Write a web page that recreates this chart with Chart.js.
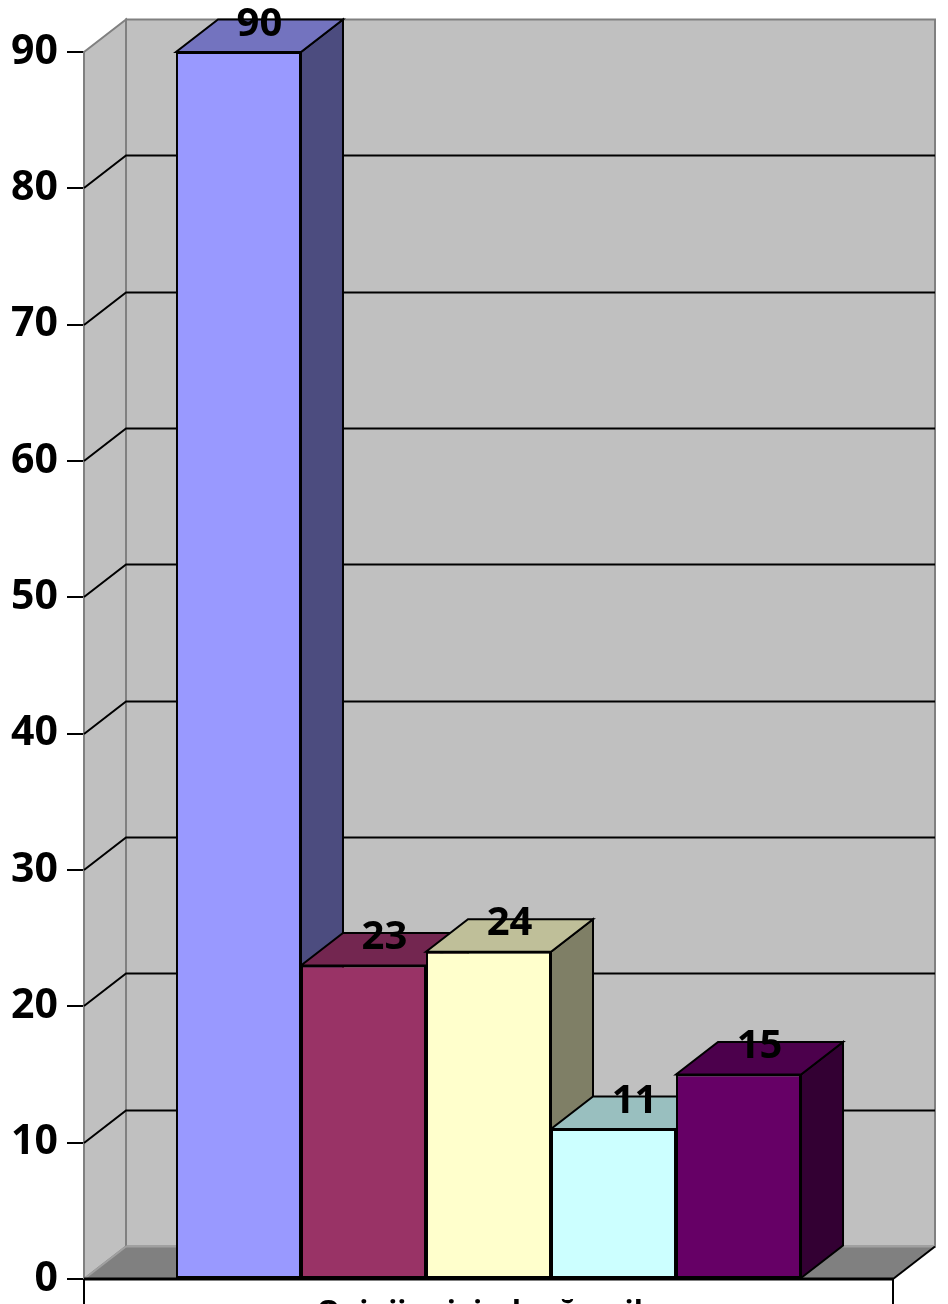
<!DOCTYPE html>
<html>
<head>
<meta charset="utf-8">
<script src="https://cdn.jsdelivr.net/npm/chart.js@4"></script>
<style>
  html, body { margin: 0; padding: 0; background: #fff; overflow: hidden; }
  canvas { display: block; }
</style>
</head>
<body>
<canvas id="grafic" width="948" height="1304"></canvas>
<script>
// date
const categorii = ['Opinii privind măsurile'];
const serii = ['Seria 1', 'Seria 2', 'Seria 3', 'Seria 4', 'Seria 5'];
const valori = [90, 23, 24, 11, 15];
const yMin = 0, yMax = 90, yPas = 10;

// culori (fata, sus, lateral)
const culoriFata = ['#9999FF', '#993366', '#FFFFCC', '#CCFFFF', '#660066'];
const culoriSus = ['#7373BF', '#732650', '#BFBF99', '#99BFBF', '#4C004C'];
const culoriLateral = ['#4C4C7F', '#4C1933', '#7F7F66', '#667F7F', '#330033'];

// adancime 3D
const DX = 42, DY = -32.5;
const FONT = '"Open Sans", "Liberation Sans", sans-serif';

function poly(ctx, pts, fill, stroke, lw) {
    ctx.beginPath();
    ctx.moveTo(pts[0][0], pts[0][1]);
    for (let i = 1; i < pts.length; i++) ctx.lineTo(pts[i][0], pts[i][1]);
    ctx.closePath();
    if (fill) { ctx.fillStyle = fill; ctx.fill(); }
    if (stroke) { ctx.strokeStyle = stroke; ctx.lineWidth = lw || 2; ctx.stroke(); }
}

function line(ctx, x1, y1, x2, y2, color, lw) {
    ctx.beginPath();
    ctx.moveTo(x1, y1);
    ctx.lineTo(x2, y2);
    ctx.strokeStyle = color;
    ctx.lineWidth = lw || 2;
    ctx.stroke();
}

const efect3D = {
    id: 'efect3D',
    beforeDatasetsDraw(chart) {
        const ctx = chart.ctx;
        const a = chart.chartArea;
        const ys = chart.scales.y;
        ctx.save();
        // perete stanga
        poly(ctx, [[a.left, a.top], [a.left + DX, a.top + DY], [a.left + DX, a.bottom + DY], [a.left, a.bottom]], '#C0C0C0', '#808080', 2);
        // perete spate
        poly(ctx, [[a.left + DX, a.top + DY], [a.right + DX, a.top + DY], [a.right + DX, a.bottom + DY], [a.left + DX, a.bottom + DY]], '#C0C0C0', '#808080', 2);
        // podea
        poly(ctx, [[a.left, a.bottom], [a.right, a.bottom], [a.right + DX, a.bottom + DY], [a.left + DX, a.bottom + DY]], '#808080', null);
        line(ctx, a.left, a.bottom, a.left + DX, a.bottom + DY, '#A0A0A0', 2);
        line(ctx, a.left + DX, a.bottom + DY, a.right + DX, a.bottom + DY, '#A0A0A0', 2);
        line(ctx, a.right, a.bottom, a.right + DX, a.bottom + DY, '#000', 2);

        // linii de grila
        for (let v = yMin + yPas; v < yMax; v += yPas) {
            const y = Math.round(ys.getPixelForValue(v));
            ctx.beginPath();
            ctx.moveTo(a.left, y);
            ctx.lineTo(a.left + DX, y + DY);
            ctx.lineTo(a.right + DX, y + DY);
            ctx.strokeStyle = '#000';
            ctx.lineWidth = 2;
            ctx.stroke();
        }

        // laturi si capace coloane
        chart.data.datasets.forEach((ds, i) => {
            const bar = chart.getDatasetMeta(i).data[0];
            const l = bar.x - bar.width / 2, r = bar.x + bar.width / 2;
            poly(ctx, [[r, bar.y], [r + DX, bar.y + DY], [r + DX, bar.base + DY], [r, bar.base]], culoriLateral[i], '#000', 2);
            poly(ctx, [[l, bar.y], [r, bar.y], [r + DX, bar.y + DY], [l + DX, bar.y + DY]], culoriSus[i], '#000', 2);
        });
        ctx.restore();
    },
    afterDatasetsDraw(chart) {
        const ctx = chart.ctx;
        const a = chart.chartArea;
        ctx.save();
        // marginea fata a podelei si cadrul de jos
        line(ctx, a.left, a.bottom, a.right, a.bottom, '#000', 3);
        line(ctx, a.left, a.bottom, a.left, chart.height, '#000', 2);
        line(ctx, a.right, a.bottom, a.right, chart.height, '#000', 2);

        // etichete valori
        ctx.fillStyle = '#000';
        ctx.font = 'bold 40px ' + FONT;
        ctx.textAlign = 'center';
        ctx.textBaseline = 'alphabetic';
        chart.data.datasets.forEach((ds, i) => {
            const bar = chart.getDatasetMeta(i).data[0];
            ctx.fillText(String(ds.data[0]), bar.x + DX / 2, bar.y + DY + 2 + 14);
        });

        // eticheta categorie (taiata la marginea de jos)
        ctx.font = 'bold 30px ' + FONT;
        ctx.fillText(categorii[0], (a.left + a.right) / 2, a.bottom + 43);
        ctx.restore();
    }
};

new Chart(document.getElementById('grafic'), {
    type: 'bar',
    data: {
        labels: categorii,
        datasets: serii.map((s, i) => ({
            label: s,
            data: [valori[i]],
            backgroundColor: culoriFata[i],
            borderColor: '#000',
            borderWidth: 2,
            borderSkipped: false,
            barPercentage: 1,
            categoryPercentage: 0.7726
        }))
    },
    options: {
        responsive: false,
        animation: false,
        devicePixelRatio: 1,
        layout: { padding: { top: 52, right: 55, bottom: 25, left: 0 } },
        plugins: {
            legend: { display: false },
            tooltip: { enabled: false }
        },
        scales: {
            x: { display: false },
            y: {
                min: yMin,
                max: yMax,
                afterFit: s => { s.width = 84; s.paddingTop = 0; s.paddingBottom = 0; },
                ticks: {
                    stepSize: yPas,
                    color: '#000',
                    padding: 9,
                    font: { family: FONT, size: 41, weight: 'bold' }
                },
                grid: { drawOnChartArea: false, drawTicks: true, tickLength: 17, color: '#000', lineWidth: 2 },
                border: { display: true, color: '#000', width: 2 }
            }
        }
    },
    plugins: [efect3D]
});
</script>
</body>
</html>
